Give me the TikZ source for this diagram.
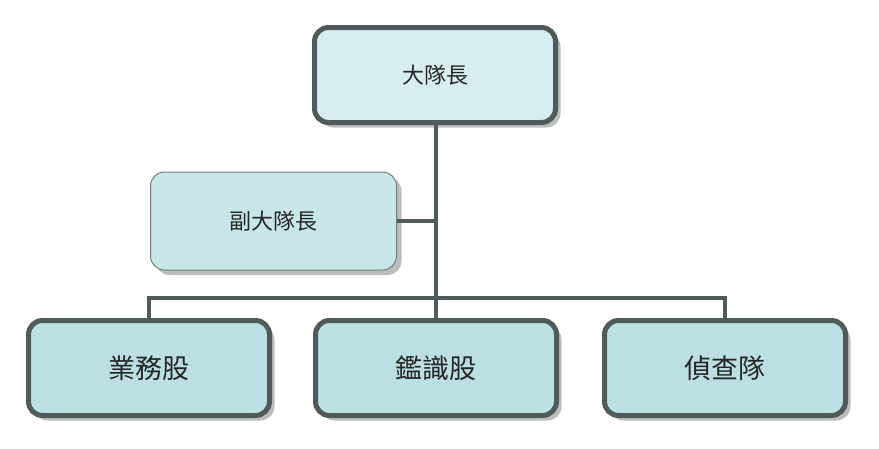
\documentclass[tikz,border=0pt]{standalone}
\usepackage{fontspec}
\newfontfamily\cjk{Noto Sans CJK TC}
\usetikzlibrary{shadows}
\definecolor{edgegray}{HTML}{4F5B5B}
\definecolor{topfill}{HTML}{D8EDF0}
\definecolor{midfill}{HTML}{C8E6EA}
\definecolor{lowfill}{HTML}{BBDFE3}
\definecolor{shadowgray}{HTML}{BDBDBD}
\tikzset{
  x=1pt, y=-1pt,
  unit/.style={rounded corners=14pt, draw=edgegray, line width=5pt, inner sep=0pt,
    minimum width=241pt, minimum height=95pt, font=\cjk\fontsize{22}{26}\selectfont,
    text=black!85, drop shadow={shadow xshift=5pt, shadow yshift=-5pt, fill=shadowgray, opacity=1}},
  topbox/.style={unit, fill=topfill},
  lowbox/.style={unit, fill=lowfill, font=\cjk\fontsize{27}{31}\selectfont},
  deputybox/.style={unit, fill=midfill, line width=1pt, draw=edgegray!80,
    minimum width=246pt, minimum height=98pt},
  link/.style={draw=edgegray, line width=3.5pt}
}
\begin{document}
\begin{tikzpicture}
\useasboundingbox (0,0) rectangle (879,448);
\node[topbox] (chief) at (435,75) {大隊長};
\node[deputybox] (deputy) at (273.5,221) {副大隊長};
\node[lowbox] (biz) at (149,368) {業務股};
\node[lowbox] (forensic) at (436,368) {鑑識股};
\node[lowbox] (invest) at (725,368) {偵查隊};
\coordinate (trunk) at (436,298);
\coordinate (side) at (436,221);
\draw[link] (chief.south -| trunk) -- (trunk);
\draw[link] (deputy.east) -- (side);
\draw[link] (biz.north) |- (trunk) -| (invest.north);
\draw[link] (trunk) -- (forensic.north -| trunk);
\end{tikzpicture}
\end{document}
